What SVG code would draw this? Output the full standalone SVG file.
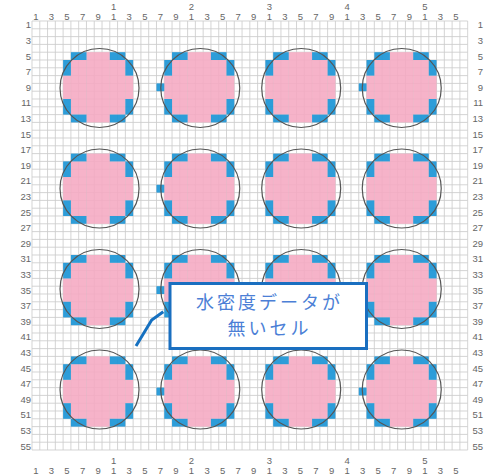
<svg xmlns="http://www.w3.org/2000/svg" xmlns:xlink="http://www.w3.org/1999/xlink" width="488" height="475" viewBox="0 0 488 475">
<style>
.lbl{font-family:"Liberation Sans",Arial,sans-serif;font-size:9.5px;fill:#666;dominant-baseline:central}
.top{text-anchor:middle}
.lft{text-anchor:end}
.pk{fill:#f5a8c2;fill-opacity:0.88}
.bl{fill:#1b95d6;fill-opacity:0.92}
.ring{fill:none;stroke:#555;stroke-width:1.2}
.grid{stroke:#cccccc;stroke-width:0.85;fill:none}
.co{fill:#4c7fd6;font-family:"Noto Sans CJK JP","Noto Sans CJK SC",sans-serif;font-size:18px;text-anchor:middle;letter-spacing:3px}
</style>
<defs>
<g id="pat">
<rect class="pk" x="23.34" y="0" width="23.34" height="70.2"/>
<rect class="pk" x="7.78" y="7.8" width="15.56" height="54.6"/>
<rect class="pk" x="46.68" y="7.8" width="15.56" height="54.6"/>
<rect class="pk" x="0" y="23.4" width="7.78" height="23.4"/>
<rect class="pk" x="62.24" y="23.4" width="7.78" height="23.4"/>
<rect class="bl" x="7.78" y="0" width="15.56" height="7.8"/>
<rect class="bl" x="46.68" y="0" width="15.56" height="7.8"/>
<rect class="bl" x="7.78" y="62.4" width="15.56" height="7.8"/>
<rect class="bl" x="46.68" y="62.4" width="15.56" height="7.8"/>
<rect class="bl" x="0" y="7.8" width="7.78" height="15.6"/>
<rect class="bl" x="0" y="46.8" width="7.78" height="15.6"/>
<rect class="bl" x="62.24" y="7.8" width="7.78" height="15.6"/>
<rect class="bl" x="62.24" y="46.8" width="7.78" height="15.6"/>
</g>
<g id="patL">
<use xlink:href="#pat"/>
<rect class="bl" x="-7.78" y="31.2" width="7.78" height="7.8"/>
</g>
</defs>
<rect width="488" height="475" fill="#fff"/>
<g id="grid">
<path class="grid" d="M32 21V450M39.78 21V450M47.56 21V450M55.34 21V450M63.12 21V450M70.9 21V450M78.68 21V450M86.46 21V450M94.24 21V450M102.02 21V450M109.8 21V450M117.58 21V450M125.36 21V450M133.14 21V450M140.92 21V450M148.7 21V450M156.48 21V450M164.26 21V450M172.04 21V450M179.82 21V450M187.6 21V450M195.38 21V450M203.16 21V450M210.94 21V450M218.72 21V450M226.5 21V450M234.28 21V450M242.06 21V450M249.84 21V450M257.62 21V450M265.4 21V450M273.18 21V450M280.96 21V450M288.74 21V450M296.52 21V450M304.3 21V450M312.08 21V450M319.86 21V450M327.64 21V450M335.42 21V450M343.2 21V450M350.98 21V450M358.76 21V450M366.54 21V450M374.32 21V450M382.1 21V450M389.88 21V450M397.66 21V450M405.44 21V450M413.22 21V450M421 21V450M428.78 21V450M436.56 21V450M444.34 21V450M452.12 21V450M459.9 21V450M467.68 21V450"/>
<path class="grid" d="M32 21H467.68M32 28.8H467.68M32 36.6H467.68M32 44.4H467.68M32 52.2H467.68M32 60H467.68M32 67.8H467.68M32 75.6H467.68M32 83.4H467.68M32 91.2H467.68M32 99H467.68M32 106.8H467.68M32 114.6H467.68M32 122.4H467.68M32 130.2H467.68M32 138H467.68M32 145.8H467.68M32 153.6H467.68M32 161.4H467.68M32 169.2H467.68M32 177H467.68M32 184.8H467.68M32 192.6H467.68M32 200.4H467.68M32 208.2H467.68M32 216H467.68M32 223.8H467.68M32 231.6H467.68M32 239.4H467.68M32 247.2H467.68M32 255H467.68M32 262.8H467.68M32 270.6H467.68M32 278.4H467.68M32 286.2H467.68M32 294H467.68M32 301.8H467.68M32 309.6H467.68M32 317.4H467.68M32 325.2H467.68M32 333H467.68M32 340.8H467.68M32 348.6H467.68M32 356.4H467.68M32 364.2H467.68M32 372H467.68M32 379.8H467.68M32 387.6H467.68M32 395.4H467.68M32 403.2H467.68M32 411H467.68M32 418.8H467.68M32 426.6H467.68M32 434.4H467.68M32 442.2H467.68M32 450H467.68"/>
</g>
<g id="col-labels-top" class="lbl top">
<text x="35.89" y="16">1</text><text x="51.45" y="16">3</text><text x="67.01" y="16">5</text><text x="82.57" y="16">7</text><text x="98.13" y="16">9</text>
<text x="113.69" y="6">1</text><text x="113.69" y="16">1</text><text x="129.25" y="16">3</text><text x="144.81" y="16">5</text><text x="160.37" y="16">7</text><text x="175.93" y="16">9</text>
<text x="191.49" y="6">2</text><text x="191.49" y="16">1</text><text x="207.05" y="16">3</text><text x="222.61" y="16">5</text><text x="238.17" y="16">7</text><text x="253.73" y="16">9</text>
<text x="269.29" y="6">3</text><text x="269.29" y="16">1</text><text x="284.85" y="16">3</text><text x="300.41" y="16">5</text><text x="315.97" y="16">7</text><text x="331.53" y="16">9</text>
<text x="347.09" y="6">4</text><text x="347.09" y="16">1</text><text x="362.65" y="16">3</text><text x="378.21" y="16">5</text><text x="393.77" y="16">7</text><text x="409.33" y="16">9</text>
<text x="424.89" y="6">5</text><text x="424.89" y="16">1</text><text x="440.45" y="16">3</text><text x="456.01" y="16">5</text>
</g>
<g id="col-labels-bottom" class="lbl top">
<text x="35.89" y="470">1</text><text x="51.45" y="470">3</text><text x="67.01" y="470">5</text><text x="82.57" y="470">7</text><text x="98.13" y="470">9</text>
<text x="113.69" y="460">1</text><text x="113.69" y="470">1</text><text x="129.25" y="470">3</text><text x="144.81" y="470">5</text><text x="160.37" y="470">7</text><text x="175.93" y="470">9</text>
<text x="191.49" y="460">2</text><text x="191.49" y="470">1</text><text x="207.05" y="470">3</text><text x="222.61" y="470">5</text><text x="238.17" y="470">7</text><text x="253.73" y="470">9</text>
<text x="269.29" y="460">3</text><text x="269.29" y="470">1</text><text x="284.85" y="470">3</text><text x="300.41" y="470">5</text><text x="315.97" y="470">7</text><text x="331.53" y="470">9</text>
<text x="347.09" y="460">4</text><text x="347.09" y="470">1</text><text x="362.65" y="470">3</text><text x="378.21" y="470">5</text><text x="393.77" y="470">7</text><text x="409.33" y="470">9</text>
<text x="424.89" y="460">5</text><text x="424.89" y="470">1</text><text x="440.45" y="470">3</text><text x="456.01" y="470">5</text>
</g>
<g id="row-labels-left" class="lbl lft">
<text x="31" y="24.9">1</text><text x="31" y="40.5">3</text><text x="31" y="56.1">5</text><text x="31" y="71.7">7</text><text x="31" y="87.3">9</text><text x="31" y="102.9">11</text><text x="31" y="118.5">13</text><text x="31" y="134.1">15</text><text x="31" y="149.7">17</text><text x="31" y="165.3">19</text><text x="31" y="180.9">21</text><text x="31" y="196.5">23</text><text x="31" y="212.1">25</text><text x="31" y="227.7">27</text><text x="31" y="243.3">29</text><text x="31" y="258.9">31</text><text x="31" y="274.5">33</text><text x="31" y="290.1">35</text><text x="31" y="305.7">37</text><text x="31" y="321.3">39</text><text x="31" y="336.9">41</text><text x="31" y="352.5">43</text><text x="31" y="368.1">45</text><text x="31" y="383.7">47</text><text x="31" y="399.3">49</text><text x="31" y="414.9">51</text><text x="31" y="430.5">53</text><text x="31" y="446.1">55</text>
</g>
<g id="row-labels-right" class="lbl lft">
<text x="483" y="24.9">1</text><text x="483" y="40.5">3</text><text x="483" y="56.1">5</text><text x="483" y="71.7">7</text><text x="483" y="87.3">9</text><text x="483" y="102.9">11</text><text x="483" y="118.5">13</text><text x="483" y="134.1">15</text><text x="483" y="149.7">17</text><text x="483" y="165.3">19</text><text x="483" y="180.9">21</text><text x="483" y="196.5">23</text><text x="483" y="212.1">25</text><text x="483" y="227.7">27</text><text x="483" y="243.3">29</text><text x="483" y="258.9">31</text><text x="483" y="274.5">33</text><text x="483" y="290.1">35</text><text x="483" y="305.7">37</text><text x="483" y="321.3">39</text><text x="483" y="336.9">41</text><text x="483" y="352.5">43</text><text x="483" y="368.1">45</text><text x="483" y="383.7">47</text><text x="483" y="399.3">49</text><text x="483" y="414.9">51</text><text x="483" y="430.5">53</text><text x="483" y="446.1">55</text>
</g>
<g id="circle-1-1" transform="translate(63.12,52.2)"><use xlink:href="#pat"/><circle class="ring" cx="36.4" cy="35.8" r="39.5"/></g>
<g id="circle-1-2" transform="translate(164.26,52.2)"><use xlink:href="#patL"/><circle class="ring" cx="36.0" cy="35.8" r="39.5"/></g>
<g id="circle-1-3" transform="translate(265.4,52.2)"><use xlink:href="#pat"/><circle class="ring" cx="35.8" cy="35.8" r="39.5"/></g>
<g id="circle-1-4" transform="translate(366.54,52.2)"><use xlink:href="#patL"/><circle class="ring" cx="35.2" cy="35.8" r="39.5"/></g>
<g id="circle-2-1" transform="translate(63.12,153.6)"><use xlink:href="#pat"/><circle class="ring" cx="36.4" cy="34.9" r="39.5"/></g>
<g id="circle-2-2" transform="translate(164.26,153.6)"><use xlink:href="#patL"/><circle class="ring" cx="36.0" cy="34.9" r="39.5"/></g>
<g id="circle-2-3" transform="translate(265.4,153.6)"><use xlink:href="#pat"/><circle class="ring" cx="35.8" cy="34.9" r="39.5"/></g>
<g id="circle-2-4" transform="translate(366.54,153.6)"><use xlink:href="#pat"/><circle class="ring" cx="35.2" cy="34.9" r="39.5"/></g>
<g id="circle-3-1" transform="translate(63.12,255)"><use xlink:href="#pat"/><circle class="ring" cx="36.4" cy="34" r="39.5"/></g>
<g id="circle-3-2" transform="translate(164.26,255)"><use xlink:href="#patL"/><circle class="ring" cx="36.0" cy="34" r="39.5"/></g>
<g id="circle-3-3" transform="translate(265.4,255)"><use xlink:href="#pat"/><circle class="ring" cx="35.8" cy="34" r="39.5"/></g>
<g id="circle-3-4" transform="translate(366.54,255)"><use xlink:href="#pat"/><circle class="ring" cx="35.2" cy="34" r="39.5"/></g>
<g id="circle-4-1" transform="translate(63.12,356.4)"><use xlink:href="#pat"/><circle class="ring" cx="36.4" cy="33.1" r="39.5"/></g>
<g id="circle-4-2" transform="translate(164.26,356.4)"><use xlink:href="#patL"/><circle class="ring" cx="36.0" cy="33.1" r="39.5"/></g>
<g id="circle-4-3" transform="translate(265.4,356.4)"><use xlink:href="#pat"/><circle class="ring" cx="35.8" cy="33.1" r="39.5"/></g>
<g id="circle-4-4" transform="translate(366.54,356.4)"><use xlink:href="#patL"/><circle class="ring" cx="35.2" cy="33.1" r="39.5"/></g>
<g id="connectors">
<polyline points="163.3,311.7 151.7,320 136,346" fill="none" stroke="#1570c0" stroke-width="3"/>
</g>
<g id="callout">
<rect x="170" y="283.5" width="196.5" height="65" fill="#fff" stroke="#1a6fc0" stroke-width="3"/>
<text class="co" x="269.5" y="309">水密度データが</text>
<text class="co" x="269.5" y="335">無いセル</text>
</g>
</svg>
